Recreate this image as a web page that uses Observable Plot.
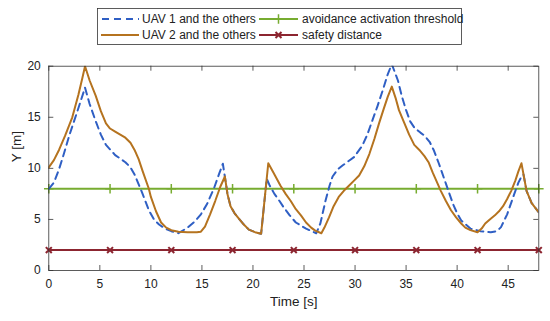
<!DOCTYPE html>
<html>
<head>
<meta charset="utf-8">
<script src="https://cdn.jsdelivr.net/npm/d3@7"></script>
<script src="https://cdn.jsdelivr.net/npm/@observablehq/plot@0.6"></script>
<style>
  html, body { margin: 0; padding: 0; background: #fff; }
  svg { display: block; font-family: "Liberation Sans", Arial, Helvetica, sans-serif; }
</style>
</head>
<body>
<div id="chart"></div>
<script>
// ---- data ----
const uav1T = [0,0.5,1.0,1.5,2.0,2.5,3.0,3.55,4.0,4.6,5.1,5.6,6.5,7.5,8.0,8.4,9.15,9.8,10.3,10.8,11.4,12.0,12.7,13.6,14.3,14.9,15.5,16.2,16.7,17.05,17.4,17.5,17.8,18.2,18.6,19.1,19.6,20.2,20.8,21.35,21.6,22.1,22.6,23.0,23.6,24.2,25.2,26.2,26.6,27.1,27.5,27.8,28.3,28.8,29.9,30.7,31.2,31.7,32.2,32.7,33.2,33.6,34.2,34.6,35.0,35.4,35.8,36.4,36.8,37.3,37.7,38.2,38.9,39.6,40.0,40.4,41.3,42.3,43.3,43.9,44.3,44.9,45.6,46.0,46.3,46.5,46.8,47.3,48.0];
const uav1Y = [8.0,8.6,9.9,11.5,13.2,14.7,16.2,17.9,16.3,14.6,13.3,12.3,11.3,10.6,10.1,9.4,7.6,5.9,5.0,4.5,4.1,3.85,3.65,4.2,4.8,5.5,6.5,8.1,9.5,10.45,8.2,7.5,6.3,5.6,5.1,4.5,4.0,3.75,3.6,9.0,8.4,7.5,6.8,6.2,5.4,4.7,4.1,3.65,4.6,6.8,8.3,9.2,9.9,10.3,11.1,12.2,13.3,14.7,16.1,17.6,19.2,20.2,18.6,17.0,15.7,14.6,14.0,13.5,13.2,12.6,11.8,10.5,8.5,6.5,5.6,4.9,4.1,3.85,3.75,3.85,4.25,5.5,7.5,8.6,9.2,9.4,7.8,6.6,5.7];

const uav2T = [0,0.5,1.0,1.6,2.3,2.9,3.3,3.55,4.0,4.6,5.1,5.6,6.0,6.5,7.0,7.5,8.0,8.4,8.8,9.2,9.8,10.0,10.5,11.0,11.5,12.0,12.7,13.6,14.5,14.9,15.3,15.8,16.3,16.8,17.25,17.5,17.8,18.2,18.6,19.1,19.6,20.2,20.8,21.5,22.0,22.7,23.2,23.7,24.2,24.7,25.2,25.7,26.1,26.7,27.0,27.45,27.9,28.4,28.9,29.4,29.9,30.4,30.9,31.4,31.9,32.35,32.8,33.2,33.6,34.0,34.3,34.8,35.3,35.8,36.3,36.8,37.2,37.6,38.0,38.4,38.9,39.4,39.9,40.4,40.8,41.3,42.0,42.4,42.75,43.2,43.7,44.1,44.5,44.9,45.3,45.7,46.0,46.3,46.8,47.3,48.0];
const uav2Y = [10.1,10.8,11.8,13.2,15.0,17.2,18.9,20.0,18.6,17.1,15.6,14.4,13.9,13.6,13.3,13.0,12.5,11.8,10.9,9.7,8.0,7.2,5.8,4.7,4.2,3.95,3.8,3.75,3.75,3.8,4.3,5.5,6.8,8.2,9.2,7.5,6.3,5.6,5.1,4.5,4.0,3.75,3.6,10.5,9.6,8.3,7.5,6.8,6.0,5.4,4.7,4.2,3.9,3.65,4.2,5.2,6.3,7.2,7.8,8.3,8.8,9.3,10.2,11.4,12.9,14.4,15.8,17.0,18.0,16.8,15.7,14.5,13.3,12.3,11.8,11.2,10.6,9.6,8.7,7.8,6.8,5.9,5.2,4.6,4.2,3.95,3.75,4.1,4.6,5.0,5.4,5.8,6.3,7.0,7.8,8.8,9.7,10.5,7.8,6.6,5.7];

const markerT = [0,6,12,18,24,30,36,42,48];
const thresholdValue = 8;
const safetyValue = 2;

const xTicks = [0,5,10,15,20,25,30,35,40,45];
const yTicks = [0,5,10,15,20];

const seriesNames = ["UAV 1 and the others","UAV 2 and the others","avoidance activation threshold","safety distance"];
const colors = {blue: "#2f5fc4", orange: "#b5731f", green: "#77ac30", red: "#8c2530"};

// ---- tables ----
const uav1 = uav1T.map((t,i) => ({t, y: uav1Y[i]}));
const uav2 = uav2T.map((t,i) => ({t, y: uav2Y[i]}));
const thr = markerT.map(t => ({t, y: thresholdValue}));
const saf = markerT.map(t => ({t, y: safetyValue}));

const W = 550, H = 321;
const mL = 48.3, mR = 11.7, mT = 65.7, mB = 51;
const frameH = H - mT - mB, frameW = W - mL - mR;
const tickLen = 5;
const axisColor = "#333";

const chart = Plot.plot({
  width: W, height: H,
  marginLeft: mL, marginRight: mR, marginTop: mT, marginBottom: mB,
  style: {background: "#fff", fontFamily: '"Liberation Sans", Arial, Helvetica, sans-serif', overflow: "visible"},
  x: {domain: [0,48], ticks: xTicks},
  y: {domain: [0,20], ticks: yTicks},
  marks: [
    Plot.axisX(xTicks, {tickSize: 0, tickPadding: 9, fontSize: 12, label: null, color: "#222"}),
    Plot.axisY(yTicks, {tickSize: 0, tickPadding: 8, fontSize: 12, label: null, color: "#222"}),
    // inward ticks on all four sides
    Plot.tickX(xTicks, {x: d => d, insetTop: frameH - tickLen, stroke: axisColor, strokeWidth: 0.8}),
    Plot.tickX(xTicks, {x: d => d, insetBottom: frameH - tickLen, stroke: axisColor, strokeWidth: 0.8}),
    Plot.tickY(yTicks, {y: d => d, insetRight: frameW - tickLen, stroke: axisColor, strokeWidth: 0.8}),
    Plot.tickY(yTicks, {y: d => d, insetLeft: frameW - tickLen, stroke: axisColor, strokeWidth: 0.8}),
    Plot.line(thr, {x: "t", y: "y", stroke: colors.green, strokeWidth: 2}),
    Plot.dot(thr, {x: "t", y: "y", symbol: "plus", r: 3.2, stroke: colors.green, strokeWidth: 1.5}),
    Plot.line(saf, {x: "t", y: "y", stroke: colors.red, strokeWidth: 2}),
    Plot.dot(saf, {x: "t", y: "y", symbol: "times", r: 2.8, stroke: colors.red, strokeWidth: 2}),
    Plot.line(uav1, {x: "t", y: "y", stroke: colors.blue, strokeWidth: 2, strokeDasharray: "7,5", clip: true}),
    Plot.line(uav2, {x: "t", y: "y", stroke: colors.orange, strokeWidth: 2, clip: true}),
    Plot.frame({stroke: axisColor, strokeWidth: 0.8}),
    Plot.text(["Time [s]"], {frameAnchor: "bottom", dy: 35, fontSize: 13.5, fill: "#222"}),
    Plot.text(["Y [m]"], {frameAnchor: "left", dx: -32, dy: -6, rotate: -90, fontSize: 13.5, fill: "#222"})
  ]
});

document.getElementById("chart").appendChild(chart);

// ---- legend (drawn into the same SVG) ----
const svg = d3.select(chart);
const lg = svg.append("g").attr("font-size", 12).attr("fill", "#222").attr("text-anchor", "start");
lg.append("rect").attr("x", 97.5).attr("y", 8.5).attr("width", 364).attr("height", 36)
  .attr("fill", "#fff").attr("stroke", axisColor).attr("stroke-width", 0.8);
const rows = [
  {x0: 101, x1: 139, tx: 142, y: 19, color: colors.blue, dash: "7,5", name: seriesNames[0]},
  {x0: 101, x1: 139, tx: 142, y: 35, color: colors.orange, dash: null, name: seriesNames[1]},
  {x0: 259, x1: 298, tx: 302, y: 19, color: colors.green, dash: null, name: seriesNames[2], sym: d3.symbolPlus},
  {x0: 259, x1: 298, tx: 302, y: 35, color: colors.red, dash: null, name: seriesNames[3], sym: d3.symbolTimes}
];
rows.forEach(r => {
  const l = lg.append("line").attr("x1", r.x0).attr("x2", r.x1).attr("y1", r.y).attr("y2", r.y)
    .attr("stroke", r.color).attr("stroke-width", 2);
  if (r.dash) l.attr("stroke-dasharray", r.dash).attr("stroke-dashoffset", -1);
  if (r.sym) {
    lg.append("path").attr("d", d3.symbol(r.sym, r.sym === d3.symbolPlus ? 32 : 25)())
      .attr("transform", `translate(${(r.x0 + r.x1) / 2},${r.y})`)
      .attr("fill", "none").attr("stroke", r.color).attr("stroke-width", r.sym === d3.symbolPlus ? 1.5 : 2);
  }
  lg.append("text").attr("x", r.tx).attr("y", r.y).attr("dy", "0.35em").attr("text-anchor", "start").text(r.name);
});
</script>
</body>
</html>
